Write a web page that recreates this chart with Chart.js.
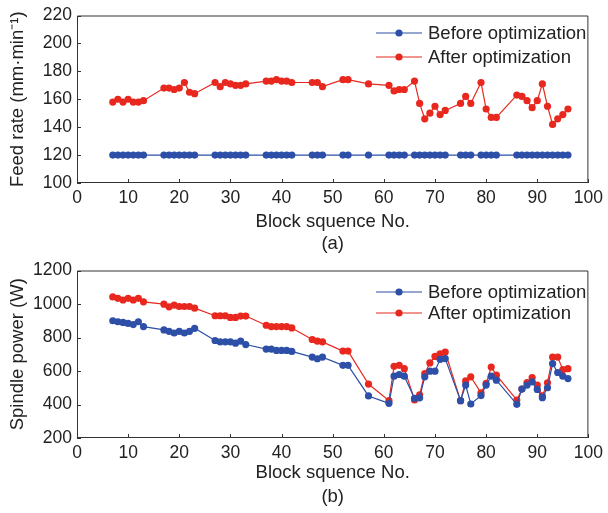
<!DOCTYPE html>
<html>
<head>
<meta charset="utf-8">
<script src="https://cdn.jsdelivr.net/npm/chart.js@4.4.1/dist/chart.umd.min.js"></script>
<style>
  html, body { margin: 0; padding: 0; background: #fff; }
  #wrap { position: relative; width: 608px; height: 513px; overflow: hidden; }
  canvas { position: absolute; left: 0; }
</style>
</head>
<body>
<div id="wrap">
  <canvas id="c1" width="608" height="255" style="top:0px"></canvas>
  <canvas id="c2" width="608" height="258" style="top:255px"></canvas>
</div>
<script>
// ---------- data ----------
const blockNo = [7,8,9,10,11,12,13, 17,18,19,20,21,22,23, 27,28,29,30,31,32,33,
  37,38,39,40,41,42, 46,47,48, 52,53, 57, 61,62,63,64, 66,67,68,69,70,71,72,
  75,76,77, 79,80,81,82, 86,87,88,89,90,91,92,93,94,95,96];

const feedBefore = [120,120,120,120,120,120,120, 120,120,120,120,120,120,120, 120,120,120,120,120,120,120,
  120,120,120,120,120,120, 120,120,120, 120,120, 120, 120,120,120,120, 120,120,120,120,120,120,120,
  120,120,120, 120,120,120,120, 120,120,120,120,120,120,120,120,120,120,120];

const feedAfter = [158,160,158,160,158,158,159, 168,168,167,168,172,165,164, 172,169,172,171,170,170,171,
  173,173,174,173,173,172, 172,172,169, 174,174, 171, 170,166,167,167, 173,157,146,150,155,149,152,
  157,162,157, 172,153,147,147, 163,162,159,154,159,171,155,142,146,149,153];

const powerBefore = [900,894,890,884,877,894,865, 845,837,827,837,827,837,855, 782,774,774,774,766,778,758,
  731,731,723,723,723,717, 683,673,683, 634,634, 451, 407,569,579,569, 437,440,565,599,599,670,674,
  423,516,403, 453,516,569,545, 401,492,516,535,490,441,500,644,591,569,555];

const powerAfter = [1042,1034,1024,1034,1024,1034,1013, 999,983,993,985,985,985,975, 930,930,930,920,920,928,928,
  873,865,865,865,865,857, 788,778,774, 719,719, 522, 423,628,634,614, 427,457,585,648,687,703,713,
  423,541,565, 470,526,624,575, 427,492,531,561,516,451,530,683,683,608,614];

const xTicks = [0,10,20,30,40,50,60,70,80,90,100];
const feedTicks = [100,120,140,160,180,200,220];
const powerTicks = [200,400,600,800,1000,1200];
const seriesNames = ['Before optimization', 'After optimization'];

// ---------- style ----------
const BLUE = '#2d4fa7';
const RED = '#e8281f';
const AXIS = '#333333';
const TEXT = '#222222';
const FONT = "'Liberation Sans', Arial, Helvetica, sans-serif";
Chart.defaults.font.family = FONT;
Chart.defaults.color = TEXT;

const toXY = (xs, ys) => xs.map((x, i) => ({ x: x, y: ys[i] }));

const frame = {
  id: 'frame',
  beforeDatasetsDraw(chart) {
    const { ctx, chartArea: { left, right, top, bottom }, scales: { x, y } } = chart;
    ctx.save();
    ctx.strokeStyle = AXIS;
    ctx.lineWidth = 1;
    ctx.beginPath();
    ctx.rect(left + 0.5, top + 0.5, right - left - 1, bottom - top - 1);
    x.ticks.forEach(t => {
      const px = Math.round(x.getPixelForValue(t.value)) + 0.5;
      ctx.moveTo(px, bottom);
      ctx.lineTo(px, bottom - 4);
    });
    y.ticks.forEach(t => {
      const py = Math.round(y.getPixelForValue(t.value)) + 0.5;
      ctx.moveTo(left, py);
      ctx.lineTo(left + 4, py);
    });
    ctx.stroke();
    ctx.restore();
  },
  afterDraw(chart, args, opts) {
    const { ctx } = chart;
    ctx.save();
    chart.data.datasets.forEach((ds, i) => {
      const y = opts.ys[i];
      const x0 = opts.x;
      ctx.strokeStyle = ds.borderColor;
      ctx.lineWidth = 1.2;
      ctx.beginPath();
      ctx.moveTo(x0, y);
      ctx.lineTo(x0 + 46, y);
      ctx.stroke();
      ctx.fillStyle = ds.pointBackgroundColor;
      ctx.beginPath();
      ctx.arc(x0 + 23, y, 3.6, 0, Math.PI * 2);
      ctx.fill();
      ctx.fillStyle = TEXT;
      ctx.font = '18.5px ' + FONT;
      ctx.textBaseline = 'middle';
      ctx.textAlign = 'left';
      ctx.fillText(ds.label, x0 + 52, y + 1);
    });
    ctx.restore();
  }
};

function makeChart(id, before, after, yTicks, yTitle, sub, cfg) {
  return new Chart(document.getElementById(id), {
    type: 'line',
    data: {
      datasets: [
        { label: seriesNames[0], data: toXY(blockNo, before), borderColor: BLUE, backgroundColor: BLUE,
          pointBackgroundColor: BLUE, pointBorderColor: BLUE, borderWidth: 1.2, pointRadius: 3.6, pointBorderWidth: 0, tension: 0 },
        { label: seriesNames[1], data: toXY(blockNo, after), borderColor: RED, backgroundColor: RED,
          pointBackgroundColor: RED, pointBorderColor: RED, borderWidth: 1.2, pointRadius: 3.6, pointBorderWidth: 0, tension: 0 }
      ]
    },
    options: {
      responsive: false,
      animation: false,
      devicePixelRatio: 1,
      layout: { padding: { left: 0, right: 17, top: cfg.top, bottom: 0 } },
      plugins: { legend: { display: false }, tooltip: { enabled: false },
        frame: { x: 376, ys: cfg.legendY } },
      scales: {
        x: {
          type: 'linear', min: 0, max: 100,
          afterBuildTicks: s => { s.ticks = xTicks.map(v => ({ value: v })); },
          afterFit: s => { s.height = cfg.xh; },
          grid: { display: false, drawTicks: false },
          border: { display: false },
          ticks: { font: { size: 17.5 }, color: TEXT, padding: 5, maxRotation: 0, autoSkip: false,
            callback: v => String(v) },
          title: { display: true, text: ['Block squence No.', sub], font: { size: 18.5, lineHeight: cfg.lh },
            color: TEXT, padding: { top: 0, bottom: cfg.tb } }
        },
        y: {
          type: 'linear', min: yTicks[0], max: yTicks[yTicks.length - 1],
          afterBuildTicks: s => { s.ticks = yTicks.map(v => ({ value: v })); },
          afterFit: s => { s.width = 77; },
          grid: { display: false, drawTicks: false },
          border: { display: false },
          ticks: { font: { size: 17.5 }, color: TEXT, padding: 5, callback: v => String(v) },
          title: { display: true, text: yTitle, font: { size: 18.5, lineHeight: 1.2 }, color: TEXT,
            padding: { top: 7, bottom: 0 } }
        }
      }
    },
    plugins: [frame]
  });
}

makeChart('c1', feedBefore, feedAfter, feedTicks, 'Feed rate (mm\u00b7min\u207b\u00b9)', '(a)',
  { top: 13, xh: 72, lh: 1.19, tb: 0, legendY: [33, 57] });
makeChart('c2', powerBefore, powerAfter, powerTicks, 'Spindle power (W)', '(b)',
  { top: 14, xh: 75, lh: 1.3, tb: 4, legendY: [37, 58] });
</script>
</body>
</html>
